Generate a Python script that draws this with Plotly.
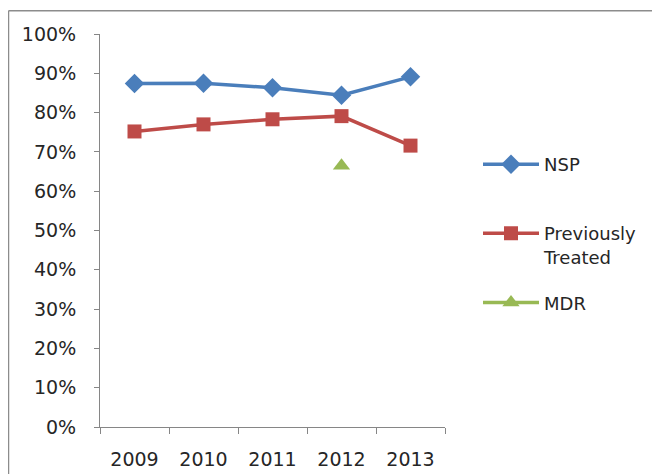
import plotly.graph_objects as go

years = ["2009", "2010", "2011", "2012", "2013"]
nsp = [0.874, 0.875, 0.863, 0.844, 0.891]
prev_treated = [0.752, 0.770, 0.783, 0.791, 0.716]
mdr = [None, None, None, 0.665, None]

TICK_FONT = dict(family="DejaVu Sans", size=19, color="#262626")
LEG_FONT = dict(family="DejaVu Sans", size=18, color="#262626")

# the page puts the figure 8px in from the top-left corner
OFF = 8
L, R, T, B = 100 - OFF, 445 - OFF, 33.5 - OFF, 429 - OFF   # plot area, figure px


def px_x(p):
    return (p - OFF - L) / (R - L)


def px_y(p):
    return (B - (p - OFF)) / (B - T)


fig = go.Figure()

fig.add_trace(go.Scatter(x=years, y=nsp, name="NSP", mode="lines+markers",
                         line=dict(color="#4A7EBB", width=3.5),
                         marker=dict(symbol="diamond", size=15, color="#4A7EBB"),
                         legend="legend"))
fig.add_trace(go.Scatter(x=years, y=prev_treated, name="Previously<br>Treated",
                         mode="lines+markers",
                         line=dict(color="#BE4B48", width=3.5),
                         marker=dict(symbol="square", size=14, color="#BE4B48"),
                         legend="legend2"))
fig.add_trace(go.Scatter(x=years, y=mdr, name="MDR", mode="lines+markers",
                         line=dict(color="#98B954", width=3.5),
                         marker=dict(symbol="triangle-up", size=15, color="#98B954"),
                         legend="legend3"))

legend_common = dict(font=LEG_FONT, bgcolor="rgba(0,0,0,0)", xanchor="left",
                     yanchor="middle", itemwidth=56, valign="top")

fig.update_layout(
    width=660, height=474,
    margin=dict(l=L, r=660 - R, t=T, b=474 - B),
    paper_bgcolor="white", plot_bgcolor="white",
    font=TICK_FONT,
    showlegend=True,
    legend=dict(x=px_x(478), y=px_y(165), **legend_common),
    legend2=dict(x=px_x(478), y=px_y(246), **legend_common),
    legend3=dict(x=px_x(478), y=px_y(304), **legend_common),
    xaxis=dict(type="category", range=[-0.5, 4.5], showline=True,
               linecolor="#868686", linewidth=1, ticks="outside",
               tickson="boundaries", ticklen=6, tickcolor="#868686",
               ticklabelstandoff=15, showgrid=False, zeroline=False),
    yaxis=dict(range=[0, 1], dtick=0.1, tickformat=".0%", showline=True,
               linecolor="#868686", linewidth=1, ticks="outside", ticklen=5,
               tickcolor="#868686", ticklabelstandoff=14,
               showgrid=False, zeroline=False),
    shapes=[
        dict(type="line", xref="paper", yref="paper",
             x0=px_x(8.5), x1=px_x(700), y0=px_y(10), y1=px_y(10),
             line=dict(color="#8C8C8C", width=1.5)),
        dict(type="line", xref="paper", yref="paper",
             x0=px_x(8.5), x1=px_x(8.5), y0=px_y(10), y1=px_y(520),
             line=dict(color="#8C8C8C", width=1.5)),
    ],
)

fig.write_html("out.html")
